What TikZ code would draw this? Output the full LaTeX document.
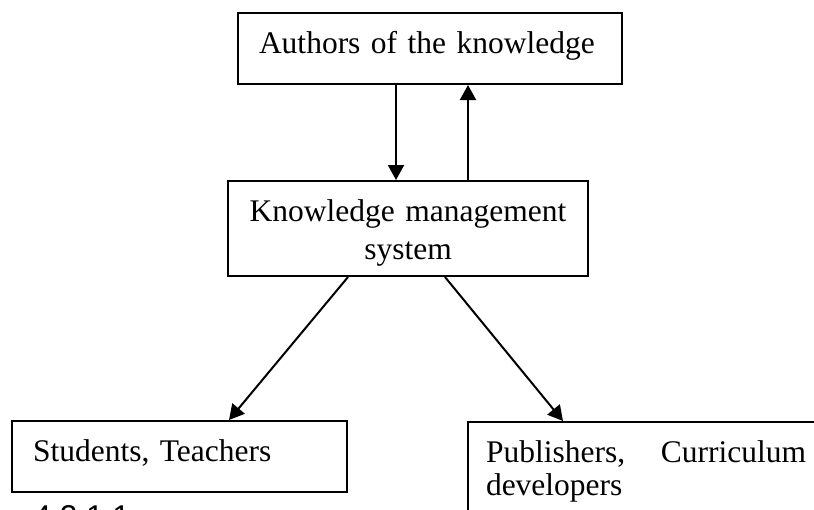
\documentclass[tikz,border=0pt]{standalone}
\usepackage{fontspec}
\setmainfont{Liberation Serif}
\newfontfamily\capfont{Liberation Sans}
\usetikzlibrary{arrows.meta}

\begin{document}
\begin{tikzpicture}[x=0.4pt, y=-0.4pt,
	kbox/.style={draw, line width=0.8pt, anchor=north west, inner ysep=0pt, text height=16pt, font=\fontsize{12.6pt}{14.5pt}\selectfont},
	arr/.style={line width=0.8pt, -{Triangle[length=6pt, width=6.4pt]}}]
	\useasboundingbox (0,0) rectangle (814,509);
	\clip (0,0) rectangle (814,509);
	\node[kbox, inner xsep=8.4pt, text width=136.8pt, text depth=12.4pt, align=left] (authors) at (237,12) {Authors of the knowledge};
	\node[kbox, inner xsep=2pt, text width=140pt, text depth=22pt, align=center, font=\fontsize{12.6pt}{15.2pt}\selectfont] (kms) at (227,180) {Knowledge management\\system};
	\node[kbox, inner xsep=8.4pt, text width=117.2pt, text depth=12.4pt, align=left] (students) at (11,420) {Students, Teachers};
	\node[kbox, inner xsep=7.2pt, text width=128pt, text depth=40pt, align=justify, font=\fontsize{12.6pt}{13.4pt}\selectfont] (publishers) at (467,421) {Publishers,\hfill Curriculum\\developers};
	\node[anchor=base west, inner sep=0pt, font=\capfont\fontsize{12.6pt}{14.5pt}\selectfont] (fignum) at (33,527) {4.2.1.1};

	\draw[arr] ([xshift=-13.6pt]authors.south) -- ([xshift=-13.6pt]authors.south |- kms.north);
	\draw[arr] ([xshift=15.2pt]authors.south |- kms.north) -- ([xshift=15.2pt]authors.south);
	\draw[arr] ([xshift=-24pt]kms.south) -- ([xshift=19.8pt]students.north);
	\draw[arr] ([xshift=14.8pt]kms.south) -- ([xshift=-33.2pt]publishers.north);
\end{tikzpicture}
\end{document}
